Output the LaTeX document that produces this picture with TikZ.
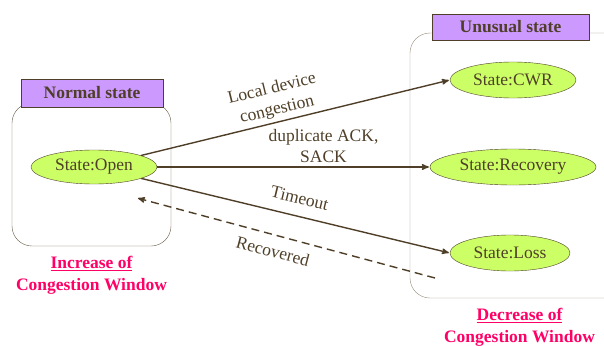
\documentclass[tikz,border=0pt]{standalone}
\usepackage{fontspec}
\setmainfont{Liberation Serif}
\usetikzlibrary{arrows,shapes,positioning}
\definecolor{darkbrown}{HTML}{4F3F28}
\definecolor{headpurple}{HTML}{CC99FF}
\definecolor{stategreen}{HTML}{CCFF66}
\definecolor{alertpink}{HTML}{FF0066}
\newcommand{\diagfont}{\fontsize{17.5}{21.5}\selectfont}
\tikzstyle{panel} = [rectangle, draw=darkbrown!85, thin, rounded corners=20pt]
\tikzstyle{header} = [rectangle, draw=darkbrown, fill=headpurple, thin,
    font=\diagfont\bfseries, text=darkbrown, inner sep=0pt]
\tikzstyle{state} = [ellipse, draw=darkbrown, fill=stategreen, thin,
    text=darkbrown, inner sep=0pt, minimum height=36pt]
\tikzstyle{note} = [text=alertpink, font=\diagfont\bfseries, align=center]

\begin{document}
\begin{tikzpicture}[->,>=stealth',shorten >=1pt,auto,line width=1.4pt,
                    x=1pt,y=-1pt,text=darkbrown,
                    every node/.append style={font=\diagfont}]
  \useasboundingbox (0,0) rectangle (604,345);

  \node[panel, minimum width=159pt, minimum height=143pt] (normalbox) at (91.5,174.5) {};
  \node[header, minimum width=142pt, minimum height=28pt] (normalhead) at (92,93) {Normal state};
  \node[panel, minimum width=215pt, minimum height=265pt, draw=darkbrown!60] (unusualbox) at (517.5,165.5) {};
  \node[header, minimum width=157pt, minimum height=26pt] (unusualhead) at (510.5,27) {Unusual state};

  \node[state, minimum width=126pt, minimum height=34pt] (open) at (94,167) {State:Open};
  \node[state, minimum width=126pt] (cwr) at (513,80) {State:CWR};
  \node[state, minimum width=166pt] (recovery) at (513,167) {State:Recovery};
  \node[state, minimum width=120pt] (loss) at (510,253) {State:Loss};

  \node[note, below=6pt of normalbox] (increase) {\underline{Increase of}\\Congestion Window};
  \node[note, below=6pt of unusualbox, xshift=2pt] (decrease) {\underline{Decrease of}\\Congestion Window};

  \path[draw=darkbrown]
        (open) edge node[pos=0.45, sloped, align=center] {Local device\\congestion} (cwr.west)
        (open) edge node[pos=0.61, align=center] {duplicate ACK,\\SACK} (recovery)
        (open) edge node[pos=0.5, sloped, above=8pt] {Timeout} (loss.west);

  % way back to the normal state
  \coordinate (back1) at (435,278);
  \coordinate (back2) at (137,198);
  \draw[darkbrown, dash pattern=on 8pt off 5pt] (back1) -- node[pos=0.53, sloped, below=6pt] {Recovered} (back2);
\end{tikzpicture}
\end{document}
